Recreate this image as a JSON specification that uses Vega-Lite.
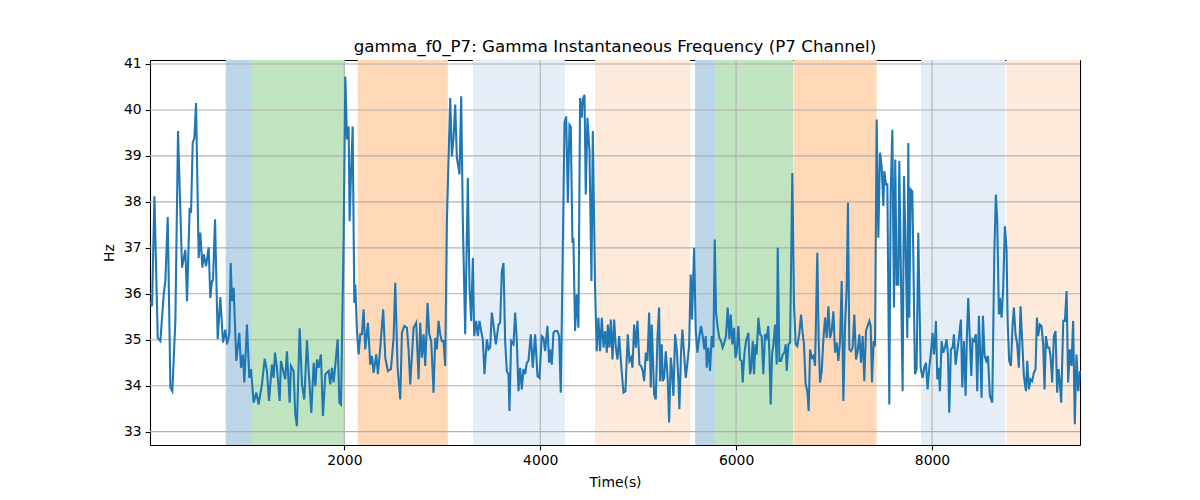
{
  "$schema": "https://vega.github.io/schema/vega-lite/v6.json",
  "width": 930,
  "height": 385,
  "autosize": {"type": "none"},
  "padding": {"left": 150, "top": 60, "right": 120, "bottom": 55},
  "title": {"text": "gamma_f0_P7: Gamma Instantaneous Frequency (P7 Channel)", "font": "DejaVu Sans", "fontSize": 16.7, "fontWeight": "normal", "color": "black", "anchor": "middle", "offset": 1},
  "config": {
    "view": {"stroke": null},
    "axis": {"grid": false, "domain": true, "domainColor": "black", "domainWidth": 1.1, "tickColor": "black", "tickSize": 4.9, "tickWidth": 1.1, "labelFont": "DejaVu Sans", "labelFontSize": 13.9, "labelColor": "black", "titleFont": "DejaVu Sans", "titleFontSize": 13.9, "titleFontWeight": "normal", "titleColor": "black", "labelPadding": 4, "labelFlush": false, "zindex": 1}
  },
  "resolve": {"axis": {"x": "independent", "y": "independent"}},
  "datasets": {
    "bands": [
      {"start": 789, "end": 1057, "kind": "A"},
      {"start": 1057, "end": 2003, "kind": "B"},
      {"start": 2136, "end": 3057, "kind": "C"},
      {"start": 3312, "end": 4251, "kind": "D"},
      {"start": 4560, "end": 5530, "kind": "E"},
      {"start": 5581, "end": 5785, "kind": "A"},
      {"start": 5785, "end": 6585, "kind": "B"},
      {"start": 6591, "end": 7435, "kind": "C"},
      {"start": 7887, "end": 8748, "kind": "D"},
      {"start": 8761, "end": 9511, "kind": "E"}
    ],
    "xgrid": [{"v": 2000}, {"v": 4000}, {"v": 6000}, {"v": 8000}],
    "ygrid": [{"v": 33}, {"v": 34}, {"v": 35}, {"v": 36}, {"v": 37}, {"v": 38}, {"v": 39}, {"v": 40}, {"v": 41}],
    "series": [
      {"t":20,"hz":35.84},{"t":37,"hz":35.73},{"t":61,"hz":38.12},{"t":95,"hz":35.04},{"t":122,"hz":34.97},{"t":156,"hz":35.99},{"t":173,"hz":36.28},{"t":197,"hz":37.67},{"t":224,"hz":33.96},{"t":244,"hz":33.88},{"t":275,"hz":35.41},{"t":302,"hz":39.54},{"t":343,"hz":36.57},{"t":377,"hz":36.96},{"t":394,"hz":35.84},{"t":421,"hz":37.87},{"t":435,"hz":37.76},{"t":452,"hz":39.28},{"t":469,"hz":39.39},{"t":486,"hz":40.15},{"t":513,"hz":36.78},{"t":530,"hz":37.33},{"t":551,"hz":36.57},{"t":564,"hz":36.86},{"t":588,"hz":36.6},{"t":615,"hz":37.01},{"t":632,"hz":35.91},{"t":649,"hz":36.28},{"t":659,"hz":36.29},{"t":680,"hz":37.62},{"t":707,"hz":35.01},{"t":734,"hz":35.93},{"t":761,"hz":34.94},{"t":785,"hz":35.22},{"t":802,"hz":34.9},{"t":826,"hz":35.12},{"t":840,"hz":36.67},{"t":853,"hz":35.84},{"t":870,"hz":36.13},{"t":897,"hz":34.54},{"t":928,"hz":35.15},{"t":945,"hz":34.39},{"t":965,"hz":34.68},{"t":979,"hz":34.07},{"t":1006,"hz":35.33},{"t":1030,"hz":34.17},{"t":1047,"hz":34.36},{"t":1074,"hz":33.63},{"t":1102,"hz":33.85},{"t":1125,"hz":33.59},{"t":1159,"hz":34.03},{"t":1187,"hz":34.59},{"t":1210,"hz":34.32},{"t":1231,"hz":33.67},{"t":1261,"hz":34.46},{"t":1278,"hz":34.17},{"t":1292,"hz":34.72},{"t":1312,"hz":34.39},{"t":1340,"hz":33.67},{"t":1353,"hz":34.54},{"t":1380,"hz":34.28},{"t":1397,"hz":34.14},{"t":1414,"hz":34.75},{"t":1442,"hz":33.63},{"t":1455,"hz":34.43},{"t":1482,"hz":34.32},{"t":1499,"hz":33.38},{"t":1516,"hz":33.12},{"t":1544,"hz":35.25},
      {"t":1568,"hz":34.03},{"t":1591,"hz":33.7},{"t":1619,"hz":34.99},{"t":1636,"hz":34.32},{"t":1663,"hz":33.41},{"t":1687,"hz":34.5},{"t":1704,"hz":33.99},{"t":1721,"hz":34.57},{"t":1738,"hz":34.39},{"t":1761,"hz":34.68},{"t":1782,"hz":33.34},{"t":1806,"hz":34.25},{"t":1840,"hz":34.32},{"t":1857,"hz":34.03},{"t":1874,"hz":34.39},{"t":1891,"hz":34.07},{"t":1908,"hz":34.46},{"t":1932,"hz":35.01},{"t":1949,"hz":33.63},{"t":1966,"hz":33.59},{"t":1993,"hz":37.22},{"t":2010,"hz":40.73},{"t":2027,"hz":39.36},{"t":2044,"hz":39.64},{"t":2054,"hz":37.58},{"t":2068,"hz":38.6},{"t":2085,"hz":39.64},{"t":2102,"hz":35.8},{"t":2112,"hz":36.2},{"t":2129,"hz":35.19},{"t":2146,"hz":34.68},{"t":2163,"hz":35.12},{"t":2180,"hz":35.12},{"t":2197,"hz":35.66},{"t":2214,"hz":34.79},{"t":2241,"hz":35.37},{"t":2265,"hz":34.46},{"t":2282,"hz":34.65},{"t":2299,"hz":34.28},{"t":2326,"hz":34.68},{"t":2343,"hz":34.25},{"t":2367,"hz":34.83},{"t":2397,"hz":35.66},{"t":2418,"hz":34.61},{"t":2445,"hz":34.32},{"t":2476,"hz":34.36},{"t":2503,"hz":35.04},{"t":2520,"hz":36.24},{"t":2544,"hz":34.39},{"t":2571,"hz":33.7},{"t":2588,"hz":35.15},{"t":2612,"hz":35.3},{"t":2639,"hz":35.26},{"t":2656,"hz":34.79},{"t":2673,"hz":34.03},{"t":2707,"hz":35.26},{"t":2734,"hz":35.37},{"t":2758,"hz":34.14},{"t":2775,"hz":35.37},{"t":2792,"hz":34.61},{"t":2809,"hz":35.12},{"t":2826,"hz":34.43},{"t":2850,"hz":35.8},{"t":2867,"hz":35.12},{"t":2887,"hz":34.97},{"t":2911,"hz":33.85},{"t":2928,"hz":35.04},{"t":2945,"hz":34.79},{"t":2962,"hz":35.41},{"t":2979,"hz":35.12},{"t":2996,"hz":34.97},{"t":3013,"hz":34.97},{"t":3030,"hz":34.43},{"t":3047,"hz":37.58},
      {"t":3081,"hz":40.26},{"t":3098,"hz":38.99},{"t":3115,"hz":39.39},{"t":3132,"hz":40.12},{"t":3149,"hz":38.96},{"t":3176,"hz":38.6},{"t":3193,"hz":40.3},{"t":3210,"hz":37.58},{"t":3234,"hz":35.12},{"t":3261,"hz":38.52},{"t":3278,"hz":36.13},{"t":3295,"hz":35.41},{"t":3312,"hz":36.78},{"t":3326,"hz":35.08},{"t":3346,"hz":35.41},{"t":3363,"hz":35.08},{"t":3380,"hz":35.41},{"t":3397,"hz":35.19},{"t":3414,"hz":35.01},{"t":3431,"hz":34.25},{"t":3455,"hz":35.01},{"t":3472,"hz":34.79},{"t":3489,"hz":34.83},{"t":3506,"hz":35.59},{"t":3523,"hz":35.33},{"t":3547,"hz":34.9},{"t":3574,"hz":35.33},{"t":3591,"hz":35.37},{"t":3608,"hz":36.49},{"t":3625,"hz":36.67},{"t":3642,"hz":34.97},{"t":3659,"hz":34.32},{"t":3676,"hz":34.25},{"t":3686,"hz":33.45},{"t":3703,"hz":34.97},{"t":3727,"hz":34.9},{"t":3744,"hz":35.59},{"t":3761,"hz":34.97},{"t":3778,"hz":33.88},{"t":3795,"hz":34.39},{"t":3812,"hz":33.92},{"t":3829,"hz":34.36},{"t":3846,"hz":34.25},{"t":3863,"hz":34.5},{"t":3880,"hz":34.54},{"t":3904,"hz":35.12},{"t":3924,"hz":34.39},{"t":3948,"hz":35.12},{"t":3972,"hz":34.21},{"t":3992,"hz":34.17},{"t":4016,"hz":35.08},{"t":4033,"hz":35.04},{"t":4050,"hz":34.75},{"t":4074,"hz":35.3},{"t":4091,"hz":34.5},{"t":4101,"hz":34.79},{"t":4118,"hz":34.46},{"t":4135,"hz":35.15},{"t":4152,"hz":35.19},{"t":4176,"hz":35.19},{"t":4193,"hz":35.08},{"t":4210,"hz":33.85},{"t":4231,"hz":37.0},{"t":4248,"hz":39.72},{"t":4265,"hz":39.86},{"t":4282,"hz":37.98},{"t":4299,"hz":39.68},{"t":4312,"hz":39.64},{"t":4329,"hz":37.11},{"t":4339,"hz":37.15},{"t":4356,"hz":35.19},{"t":4373,"hz":35.99},{"t":4390,"hz":35.26},{"t":4407,"hz":40.26},{"t":4424,"hz":39.83},{"t":4435,"hz":40.23},{"t":4452,"hz":40.33},{"t":4465,"hz":38.16},{"t":4482,"hz":39.83},{"t":4503,"hz":39.1},{"t":4523,"hz":36.28},{"t":4537,"hz":39.54},{"t":4560,"hz":36.13},{"t":4577,"hz":34.75},{"t":4594,"hz":35.48},{"t":4611,"hz":34.75},
      {"t":4629,"hz":35.48},{"t":4646,"hz":34.83},{"t":4663,"hz":35.19},{"t":4680,"hz":34.72},{"t":4690,"hz":35.33},{"t":4707,"hz":34.83},{"t":4721,"hz":35.44},{"t":4738,"hz":34.57},{"t":4755,"hz":35.44},{"t":4772,"hz":34.83},{"t":4789,"hz":34.57},{"t":4806,"hz":35.08},{"t":4826,"hz":34.46},{"t":4850,"hz":33.85},{"t":4870,"hz":33.88},{"t":4894,"hz":35.12},{"t":4911,"hz":34.54},{"t":4928,"hz":34.61},{"t":4942,"hz":34.39},{"t":4959,"hz":35.33},{"t":4976,"hz":34.83},{"t":4993,"hz":35.41},{"t":5013,"hz":34.46},{"t":5030,"hz":34.43},{"t":5047,"hz":34.32},{"t":5061,"hz":34.1},{"t":5078,"hz":34.72},{"t":5095,"hz":34.54},{"t":5112,"hz":35.59},{"t":5129,"hz":33.96},{"t":5139,"hz":35.33},{"t":5163,"hz":33.81},{"t":5180,"hz":33.7},{"t":5197,"hz":35.04},{"t":5214,"hz":35.7},{"t":5224,"hz":34.1},{"t":5241,"hz":34.9},{"t":5251,"hz":34.1},{"t":5265,"hz":34.17},{"t":5282,"hz":34.75},{"t":5302,"hz":34.14},{"t":5316,"hz":33.2},{"t":5333,"hz":34.61},{"t":5343,"hz":34.39},{"t":5360,"hz":33.78},{"t":5377,"hz":35.12},{"t":5394,"hz":34.79},{"t":5411,"hz":34.1},{"t":5421,"hz":33.49},{"t":5438,"hz":34.75},{"t":5452,"hz":35.22},{"t":5469,"hz":34.68},{"t":5486,"hz":34.17},{"t":5503,"hz":34.5},{"t":5520,"hz":34.86},{"t":5537,"hz":36.42},{"t":5550,"hz":35.44},{"t":5571,"hz":37.0},{"t":5588,"hz":35.19},{"t":5605,"hz":34.72},{"t":5622,"hz":35.04},{"t":5642,"hz":35.3},{"t":5659,"hz":35.08},{"t":5676,"hz":34.79},{"t":5690,"hz":35.08},{"t":5700,"hz":34.39},{"t":5717,"hz":34.83},{"t":5734,"hz":34.32},{"t":5751,"hz":35.08},{"t":5768,"hz":34.83},{"t":5782,"hz":37.18},{"t":5795,"hz":35.59},{"t":5812,"hz":35.26},{"t":5829,"hz":35.04},{"t":5846,"hz":34.97},{"t":5863,"hz":34.83},{"t":5880,"hz":34.94},{"t":5897,"hz":35.08},{"t":5914,"hz":35.7},{"t":5932,"hz":35.01},{"t":5945,"hz":35.55},{"t":5962,"hz":34.9},{"t":5979,"hz":35.26},{"t":5993,"hz":34.61},{"t":6006,"hz":34.72},{"t":6023,"hz":35.3},{"t":6040,"hz":34.57},{"t":6057,"hz":34.54},{"t":6067,"hz":34.07},{"t":6084,"hz":34.68},{"t":6101,"hz":34.97},{"t":6125,"hz":35.15},{"t":6142,"hz":34.25},
      {"t":6153,"hz":34.36},{"t":6170,"hz":34.97},{"t":6183,"hz":34.25},{"t":6197,"hz":34.9},{"t":6210,"hz":34.68},{"t":6227,"hz":35.48},{"t":6244,"hz":35.12},{"t":6261,"hz":35.08},{"t":6278,"hz":34.25},{"t":6295,"hz":35.12},{"t":6312,"hz":35.04},{"t":6329,"hz":35.3},{"t":6340,"hz":34.68},{"t":6353,"hz":33.59},{"t":6367,"hz":34.68},{"t":6381,"hz":34.9},{"t":6398,"hz":35.33},{"t":6415,"hz":34.46},{"t":6425,"hz":37.0},{"t":6442,"hz":34.54},{"t":6459,"hz":34.54},{"t":6476,"hz":34.68},{"t":6493,"hz":34.72},{"t":6506,"hz":34.9},{"t":6517,"hz":34.32},{"t":6534,"hz":34.9},{"t":6551,"hz":34.94},{"t":6574,"hz":38.63},{"t":6591,"hz":35.77},{"t":6608,"hz":34.9},{"t":6625,"hz":34.86},{"t":6646,"hz":35.15},{"t":6663,"hz":35.55},{"t":6680,"hz":35.12},{"t":6693,"hz":34.9},{"t":6710,"hz":34.03},{"t":6727,"hz":33.88},{"t":6741,"hz":33.45},{"t":6755,"hz":34.79},{"t":6772,"hz":34.61},{"t":6789,"hz":34.65},{"t":6806,"hz":34.43},{"t":6829,"hz":36.89},{"t":6843,"hz":34.97},{"t":6857,"hz":34.07},{"t":6874,"hz":34.32},{"t":6891,"hz":35.01},{"t":6908,"hz":35.48},{"t":6925,"hz":35.04},{"t":6942,"hz":35.73},{"t":6959,"hz":35.04},{"t":6976,"hz":35.19},{"t":6993,"hz":35.62},{"t":7010,"hz":34.72},{"t":7027,"hz":34.94},{"t":7044,"hz":34.54},{"t":7061,"hz":34.97},{"t":7078,"hz":36.28},{"t":7095,"hz":33.67},{"t":7112,"hz":35.3},{"t":7129,"hz":36.13},{"t":7142,"hz":37.98},{"t":7156,"hz":34.79},{"t":7173,"hz":34.75},{"t":7190,"hz":34.83},{"t":7207,"hz":35.55},{"t":7224,"hz":34.57},{"t":7241,"hz":34.75},{"t":7258,"hz":35.12},{"t":7275,"hz":34.5},{"t":7292,"hz":35.08},{"t":7309,"hz":34.1},{"t":7326,"hz":35.19},{"t":7343,"hz":35.3},{"t":7360,"hz":35.41},{"t":7374,"hz":35.3},{"t":7387,"hz":34.07},{"t":7404,"hz":34.97},{"t":7418,"hz":34.86},{"t":7435,"hz":39.79},{"t":7452,"hz":37.22},{"t":7469,"hz":39.07},{"t":7486,"hz":38.78},{"t":7503,"hz":37.91},{"t":7513,"hz":38.67},{"t":7530,"hz":38.38},{"t":7544,"hz":38.38},{"t":7564,"hz":33.59},{"t":7578,"hz":38.16},{"t":7595,"hz":39.57},{"t":7612,"hz":35.7},{"t":7625,"hz":38.92},{"t":7639,"hz":36.2},{"t":7656,"hz":36.2},{"t":7666,"hz":38.89},
      {"t":7700,"hz":33.88},{"t":7714,"hz":38.56},{"t":7731,"hz":36.93},{"t":7748,"hz":35.04},{"t":7758,"hz":39.28},{"t":7768,"hz":35.48},{"t":7782,"hz":38.27},{"t":7799,"hz":38.23},{"t":7809,"hz":36.86},{"t":7826,"hz":34.25},{"t":7843,"hz":34.36},{"t":7860,"hz":37.33},{"t":7884,"hz":34.39},{"t":7904,"hz":34.17},{"t":7921,"hz":34.39},{"t":7938,"hz":34.5},{"t":7955,"hz":33.92},{"t":7972,"hz":34.39},{"t":7989,"hz":34.72},{"t":8006,"hz":35.15},{"t":8020,"hz":34.68},{"t":8030,"hz":34.94},{"t":8040,"hz":35.41},{"t":8054,"hz":34.14},{"t":8068,"hz":34.39},{"t":8081,"hz":33.88},{"t":8098,"hz":34.97},{"t":8115,"hz":34.72},{"t":8132,"hz":34.83},{"t":8149,"hz":35.01},{"t":8163,"hz":34.68},{"t":8176,"hz":33.41},{"t":8193,"hz":34.79},{"t":8210,"hz":34.83},{"t":8224,"hz":35.12},{"t":8241,"hz":34.46},{"t":8258,"hz":34.75},{"t":8275,"hz":35.04},{"t":8295,"hz":35.44},{"t":8309,"hz":33.96},{"t":8326,"hz":34.97},{"t":8343,"hz":33.78},{"t":8357,"hz":35.12},{"t":8370,"hz":35.91},{"t":8387,"hz":34.97},{"t":8401,"hz":34.21},{"t":8414,"hz":35.01},{"t":8431,"hz":34.97},{"t":8448,"hz":35.12},{"t":8462,"hz":33.88},{"t":8479,"hz":35.52},{"t":8493,"hz":34.65},{"t":8506,"hz":33.74},{"t":8520,"hz":35.52},{"t":8537,"hz":34.65},{"t":8554,"hz":34.54},{"t":8571,"hz":34.65},{"t":8591,"hz":33.78},{"t":8615,"hz":33.63},{"t":8636,"hz":36.86},{"t":8652,"hz":38.16},{"t":8666,"hz":37.58},{"t":8683,"hz":35.55},{"t":8693,"hz":35.91},{"t":8710,"hz":35.48},{"t":8727,"hz":36.13},{"t":8744,"hz":37.47},{"t":8761,"hz":36.96},{"t":8772,"hz":35.41},{"t":8788,"hz":34.54},{"t":8806,"hz":34.43},{"t":8823,"hz":35.33},{"t":8836,"hz":35.7},{"t":8853,"hz":35.12},{"t":8870,"hz":34.9},{"t":8887,"hz":34.39},{"t":8904,"hz":35.73},{"t":8921,"hz":34.97},{"t":8938,"hz":34.21},{"t":8959,"hz":33.88},{"t":8972,"hz":34.54},{"t":8989,"hz":33.92},{"t":9006,"hz":34.14},{"t":9023,"hz":34.1},{"t":9040,"hz":34.28},{"t":9057,"hz":34.36},{"t":9071,"hz":35.48},{"t":9084,"hz":35.08},{"t":9101,"hz":35.33},{"t":9118,"hz":35.3},{"t":9135,"hz":34.9},{"t":9149,"hz":33.92},{"t":9163,"hz":35.08},{"t":9180,"hz":34.83},{"t":9197,"hz":34.83},{"t":9210,"hz":34.65},{"t":9227,"hz":34.07},{"t":9244,"hz":35.08},{"t":9261,"hz":35.19},{"t":9278,"hz":33.85},{"t":9292,"hz":34.36},{"t":9305,"hz":34.07},{"t":9319,"hz":33.63},{"t":9340,"hz":35.41},{"t":9357,"hz":35.41},{"t":9374,"hz":36.06},{"t":9390,"hz":34.07},{"t":9407,"hz":34.79},{"t":9424,"hz":34.43},{"t":9441,"hz":35.41},{"t":9458,"hz":33.16},{"t":9475,"hz":34.68},{"t":9493,"hz":33.88},{"t":9510,"hz":34.32}
    ]
  },
  "layer": [
    {
      "data": {"name": "bands"},
      "mark": {"type": "rect"},
      "encoding": {
        "x": {"field": "start", "type": "quantitative", "scale": {"domain": [16, 9511], "nice": false, "zero": false}, "axis": null},
        "x2": {"field": "end"},
        "color": {"field": "kind", "type": "nominal", "legend": null, "scale": {"domain": ["A", "B", "C", "D", "E"], "range": ["#bcd6e8", "#c0e3c0", "#ffd9b7", "#e5eef7", "#feeada"]}}
      }
    },
    {
      "data": {"name": "xgrid"},
      "mark": {"type": "rule", "color": "#b0b0b0", "strokeWidth": 1.1},
      "encoding": {
        "x": {"field": "v", "type": "quantitative", "scale": {"domain": [16, 9511], "nice": false, "zero": false}, "axis": {"orient": "top", "labels": false, "ticks": false, "title": null}}
      }
    },
    {
      "data": {"name": "ygrid"},
      "mark": {"type": "rule", "color": "#b0b0b0", "strokeWidth": 1.1},
      "encoding": {
        "y": {"field": "v", "type": "quantitative", "scale": {"domain": [32.71, 41.087], "nice": false, "zero": false}, "axis": {"orient": "right", "labels": false, "ticks": false, "title": null}}
      }
    },
    {
      "data": {"name": "series"},
      "mark": {"type": "line", "color": "#1f77b4", "strokeWidth": 2.08},
      "encoding": {
        "x": {"field": "t", "type": "quantitative", "title": "Time(s)", "scale": {"domain": [16, 9511], "nice": false, "zero": false}, "axis": {"orient": "bottom", "values": [2000, 4000, 6000, 8000], "format": "d", "titlePadding": 8}},
        "y": {"field": "hz", "type": "quantitative", "title": "Hz", "scale": {"domain": [32.71, 41.087], "nice": false, "zero": false}, "axis": {"orient": "left", "values": [33, 34, 35, 36, 37, 38, 39, 40, 41], "titlePadding": 7}}
      }
    }
  ]
}
